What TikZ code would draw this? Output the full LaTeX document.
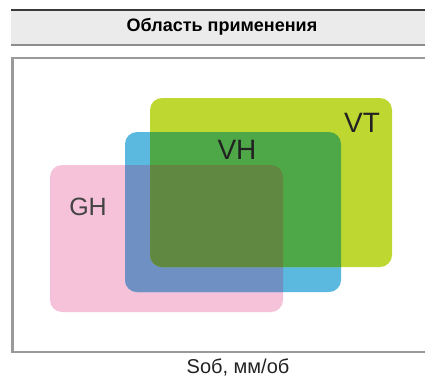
\documentclass[tikz,border=0pt]{standalone}
\usepackage{fontspec}
\setmainfont{Liberation Sans}
\definecolor{headgray}{HTML}{EBEBEB}
\definecolor{headline}{HTML}{3A3A3A}
\definecolor{ruleg}{HTML}{8C8C8C}
\definecolor{framegray}{HTML}{9A9A9A}
\definecolor{ghpink}{HTML}{F6C2DA}
\definecolor{vhblue}{HTML}{5BB8DF}
\definecolor{vtlime}{HTML}{BFD731}
\definecolor{ghvh}{HTML}{6E90C3}
\definecolor{vhvt}{HTML}{4FA847}
\definecolor{allthree}{HTML}{608841}
\definecolor{labeltext}{HTML}{222222}
\tikzset{
  zone/.style={rounded corners=12pt},
  biglabel/.style={font=\fontsize{28}{30}\selectfont, text=labeltext, inner sep=0pt},
}
\begin{document}
\begin{tikzpicture}[x=1pt,y=-1pt]
\useasboundingbox (0,0) rectangle (425,383);
% header band
\fill[headgray] (11,10) rectangle (425,45);
\draw[line width=2pt, headline] (11,10) -- (425,10);
\draw[line width=1.5pt, ruleg] (11,45) -- (425,45);
\node[font=\bfseries\fontsize{18}{20}\selectfont, inner sep=0pt] (title) at (222,27) {Область применения};
% chart frame (open on the right)
\draw[framegray, line width=2.5pt] (425,58) -- (12.5,58) -- (12.5,352) -- (425,352);
% zone extents
\def\GH{(50,165) rectangle (283,312)}
\def\VH{(125,132) rectangle (341,292)}
\def\VT{(150,98) rectangle (392,267)}
% single zones
\fill[ghpink, zone] \GH;
\fill[vhblue, zone] \VH;
\begin{scope}
  \clip[zone] \GH;
  \fill[ghvh, zone] \VH;
\end{scope}
\fill[vtlime, zone] \VT;
\begin{scope}
  \clip[zone] \VH;
  \fill[vhvt, zone] \VT;
\end{scope}
\begin{scope}
  \clip[zone] \VH;
  \clip[zone] \GH;
  \fill[allthree, zone] \VT;
\end{scope}
% zone labels
\node[biglabel] (vt) at (362,123) {VT};
\node[biglabel] (vh) at (237,150) {VH};
\node[font=\fontsize{25}{27}\selectfont, text=labeltext!85!white, inner sep=0pt] (gh) at (88,207) {GH};
% axis caption
\node[font=\fontsize{20}{22}\selectfont, text=labeltext, inner sep=0pt] (axis) at (238,367) {Sоб, мм/об};
\end{tikzpicture}
\end{document}
